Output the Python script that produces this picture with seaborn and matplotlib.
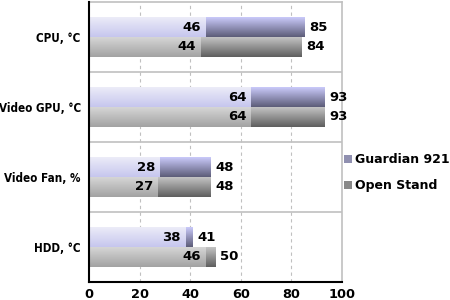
import numpy as np
import pandas as pd
import matplotlib
matplotlib.use("Agg")
import matplotlib.pyplot as plt
import seaborn as sns
from matplotlib.patches import Patch
from matplotlib.colors import to_rgb

categories = ["CPU, °C", "Video GPU, °C", "Video Fan, %", "HDD, °C"]
series = ["Guardian 921", "Open Stand"]
guardian_min = [46, 64, 28, 38]
guardian_max = [85, 93, 48, 41]
open_min = [44, 64, 27, 46]
open_max = [84, 93, 48, 50]
x_ticks = [0, 20, 40, 60, 80, 100]

df = pd.DataFrame({
    "Category": categories * 2,
    "Series": [series[0]] * 4 + [series[1]] * 4,
    "Min": guardian_min + open_min,
    "Max": guardian_max + open_max,
})

sns.set_style("white")
plt.rcParams["font.family"] = ["DejaVu Sans"]
plt.rcParams["font.weight"] = "bold"
plt.rcParams["text.color"] = "black"
plt.rcParams["xtick.color"] = "black"
plt.rcParams["ytick.color"] = "black"
plt.rcParams["xtick.labelcolor"] = "black"
plt.rcParams["ytick.labelcolor"] = "black"

fig = plt.figure(figsize=(4.5, 3), dpi=100)
ax = fig.add_axes([89 / 450, 18 / 300, 253 / 450, 280 / 300])

common = dict(y="Category", hue="Series", order=categories, hue_order=series,
              width=0.57, dodge=True, legend=False, saturation=1, ax=ax,
              palette=["#9090b8", "#909090"], linewidth=0)
sns.barplot(data=df, x="Max", **common)
sns.barplot(data=df, x="Min", **common)

ax.set_xlim(0, 100)
ax.set_ylim(3.5, -0.5)
xl, yl = ax.get_xlim(), ax.get_ylim()

grads = {
    0: ("#cacafa", "#5c5c78"),   # Guardian max (dark)
    1: ("#c4c4c4", "#5e5e5e"),   # Open max (dark)
    2: ("#ececf8", "#c6c6ee"),   # Guardian min (light)
    3: ("#d6d6d6", "#a2a2a2"),   # Open min (light)
}
for ci, cont in enumerate(ax.containers):
    top, bot = np.array(to_rgb(grads[ci][0])), np.array(to_rgb(grads[ci][1]))
    t = np.linspace(0, 1, 64)[:, None, None]
    img = top[None, None, :] * (1 - t) + bot[None, None, :] * t
    for bar in cont:
        x, y, w, h = bar.get_x(), bar.get_y(), bar.get_width(), bar.get_height()
        ax.imshow(img, extent=(x, x + w, y + h, y), origin="upper",
                  aspect="auto", zorder=2 + ci * 0.1, interpolation="bilinear")
        bar.set_visible(False)
ax.set_xlim(xl)
ax.set_ylim(yl)

# value labels
for ci in (0, 1):
    for bar in ax.containers[ci]:
        w = bar.get_width()
        ax.annotate(f"{w:g}", (w, bar.get_y() + bar.get_height() / 2),
                    xytext=(3.5, 0), textcoords="offset points", ha="left",
                    va="center", fontsize=9.5, fontweight="bold", color="black", zorder=5)
for ci in (2, 3):
    for bar in ax.containers[ci]:
        w = bar.get_width()
        ax.annotate(f"{w:g}", (w, bar.get_y() + bar.get_height() / 2),
                    xytext=(-3, 0), textcoords="offset points", ha="right",
                    va="center", fontsize=9.5, fontweight="bold", color="black", zorder=5)

# grid
for xv in x_ticks[1:-1]:
    ax.axvline(xv, color="#c0c0c0", lw=0.8, ls=(0, (3, 3)), zorder=1)
for yv in np.arange(0.5, len(categories) - 0.5, 1):
    ax.axhline(yv, color="#c0c0c0", lw=1.2, zorder=1)

ax.set_xticks(x_ticks)
ax.set_xticklabels([str(v) for v in x_ticks], fontsize=9.3, fontweight="bold", color="black")
ax.set_yticks(range(len(categories)))
ax.set_yticklabels(categories, fontsize=8.4, fontweight="bold", color="black",
                   fontstretch="condensed")
ax.tick_params(axis="both", length=0)
ax.tick_params(axis="x", pad=4)
ax.tick_params(axis="y", pad=6)
ax.set_xlabel("")
ax.set_ylabel("")

for s in ("top", "right"):
    ax.spines[s].set_color("#c0c0c0")
    ax.spines[s].set_linewidth(1.2)
for s in ("left", "bottom"):
    ax.spines[s].set_color("black")
    ax.spines[s].set_linewidth(1.5)
    ax.spines[s].set_zorder(6)

handles = [Patch(facecolor="#9090b0", edgecolor="none"),
           Patch(facecolor="#888888", edgecolor="none")]
fig.legend(handles, series, loc="upper left", bbox_to_anchor=(344 / 450, 1 - 153 / 300),
           frameon=False, prop={"weight": "bold", "size": 9},
           handlelength=0.6, handleheight=0.6, handletextpad=0.3,
           labelspacing=1.05, borderaxespad=0, borderpad=0, labelcolor="black")

fig.savefig("out.png", dpi=100)
